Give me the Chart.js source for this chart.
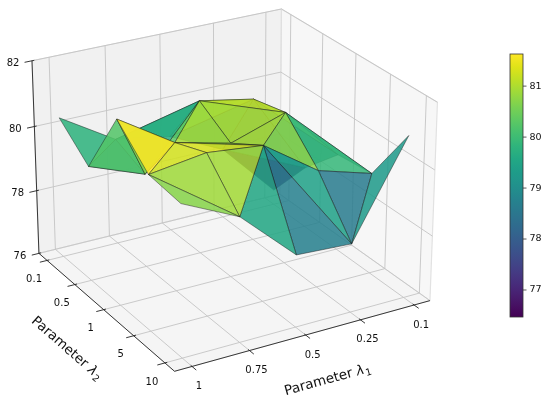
<!DOCTYPE html>
<html>
<head>
<meta charset="utf-8">
<script src="https://cdn.jsdelivr.net/npm/chart.js@4.4.1/dist/chart.umd.min.js"></script>
<style>
html,body{margin:0;padding:0;background:#ffffff;}
#wrap{width:550px;height:404px;position:relative;}
canvas{display:block;}
</style>
</head>
<body>
<div id="wrap"><canvas id="c" width="550" height="404"></canvas></div>
<script>
// ---------------- data ----------------
const lambda1Labels = ['0.1', '0.25', '0.5', '0.75', '1'];      // x index 0..4
const lambda2Labels = ['0.1', '0.5', '1', '5', '10'];           // y index 0..4
const zTicks = [76, 78, 80, 82];
const colorbarTicks = [77, 78, 79, 80, 81];
// accuracy for each λ1, listed over λ2 = 0.1, 0.5, 1, 5, 10
const accL1_010 = [76.47, 77.90, 79.00, 79.11, 80.94];
const accL1_025 = [78.20, 80.45, 80.69, 79.60, 78.10];
const accL1_050 = [79.00, 80.77, 80.14, 80.75, 78.20];
const accL1_075 = [79.30, 78.90, 80.55, 80.93, 79.76];
const accL1_100 = [80.35, 79.54, 81.63, 80.69, 80.56];
// triangulation of each grid cell [i][j]: 'A' = (i+1,j)-(i,j+1), 'B' = (i,j)-(i+1,j+1)
const cellDiagonals = [
  ['A', 'A', 'A', 'B'],
  ['A', 'A', 'B', 'A'],
  ['A', 'B', 'A', 'B'],
  ['B', 'B', 'B', 'A']
];
const accByL1 = [accL1_010, accL1_025, accL1_050, accL1_075, accL1_100];

// ---------------- view / projection (matplotlib-like 3D) ----------------
const ELEV = 25, AZIM = 60, DIST = 10;
const XLIM = [-0.3, 4.3], YLIM = [-0.3, 4.3], ZLIM = [76, 82];
const ASPECT = [4, 4, 3];
const SCREEN = {cx: 230.8, cy: 180.6, sx: 254.9, sy: 251.5, w: 550, h: 404};

const kA = 1.8294640721620434 / Math.hypot(ASPECT[0], ASPECT[1], ASPECT[2]);
const BOXD = ASPECT.map(a => a * kA);
const el = ELEV * Math.PI / 180, az = AZIM * Math.PI / 180;
const Wv = [Math.cos(el) * Math.cos(az), Math.cos(el) * Math.sin(az), Math.sin(el)];
const Uv = [-Math.sin(az), Math.cos(az), 0];
const Vv = [-Math.sin(el) * Math.cos(az), -Math.sin(el) * Math.sin(az), Math.cos(el)];
const dot = (a, b) => a[0] * b[0] + a[1] * b[1] + a[2] * b[2];
function project(xd, yd, zd) {
  const p = [
    (xd - XLIM[0]) / (XLIM[1] - XLIM[0]) * BOXD[0] - BOXD[0] / 2,
    (yd - YLIM[0]) / (YLIM[1] - YLIM[0]) * BOXD[1] - BOXD[1] / 2,
    (zd - ZLIM[0]) / (ZLIM[1] - ZLIM[0]) * BOXD[2] - BOXD[2] / 2
  ];
  const du = dot(Uv, p), dv = dot(Vv, p), dw = dot(Wv, p);
  const f = DIST / (DIST - dw);
  return {x: du * f, y: dv * f, depth: dw};
}
const P = (x, y, z) => { const q = project(x, y, z); return {x: q.x, y: q.y}; };

// ---------------- colormap ----------------
const VIRIDIS = ['#440154','#471365','#482475','#463480','#414487','#3b528b','#355f8d','#2f6c8e',
  '#2a788e','#25848e','#21918c','#1e9c89','#22a884','#2fb47c','#44bf70','#5ec962','#7ad151',
  '#9bd93c','#bddf26','#dfe318','#fde725'];
function hex2rgb(h) { return [parseInt(h.slice(1,3),16), parseInt(h.slice(3,5),16), parseInt(h.slice(5,7),16)]; }
function viridis(t) {
  t = Math.max(0, Math.min(1, t));
  const p = t * (VIRIDIS.length - 1);
  const i = Math.min(VIRIDIS.length - 2, Math.floor(p));
  const f = p - i;
  const a = hex2rgb(VIRIDIS[i]), b = hex2rgb(VIRIDIS[i + 1]);
  return [0, 1, 2].map(k => Math.round(a[k] + (b[k] - a[k]) * f));
}

// ---------------- build datasets ----------------
const datasets = [];
function lineDS(pts, color, width, order) {
  return {data: pts, borderColor: color, borderWidth: width, fill: false, pointRadius: 0,
          pointHoverRadius: 0, order: order, clip: false, tension: 0};
}
function polyDS(pts, fillColor, edgeColor, edgeWidth, order) {
  return {data: pts.concat([pts[0]]), backgroundColor: fillColor, borderColor: edgeColor,
          borderWidth: edgeWidth, fill: 'shape', pointRadius: 0, pointHoverRadius: 0,
          order: order, clip: false, tension: 0, borderJoinStyle: 'round'};
}
const [x0, x1] = XLIM, [y0, y1] = YLIM, [z0, z1] = ZLIM;

// panes
datasets.push(polyDS([P(x0,y0,z0), P(x1,y0,z0), P(x1,y1,z0), P(x0,y1,z0)], 'rgba(236,236,236,0.55)', 'rgba(228,228,228,1)', 1, 9900));
datasets.push(polyDS([P(x0,y0,z0), P(x1,y0,z0), P(x1,y0,z1), P(x0,y0,z1)], 'rgba(230,230,230,0.55)', 'rgba(224,224,224,1)', 1.2, 9901));
datasets.push(polyDS([P(x0,y0,z0), P(x0,y1,z0), P(x0,y1,z1), P(x0,y0,z1)], 'rgba(240,240,240,0.55)', 'rgba(226,226,226,1)', 1.2, 9902));

// gridlines
const GRID = 'rgba(196,196,196,1)';
for (let i = 0; i < lambda1Labels.length; i++) {
  datasets.push(lineDS([P(i,y0,z0), P(i,y1,z0)], GRID, 0.9, 9500));
  datasets.push(lineDS([P(i,y0,z0), P(i,y0,z1)], GRID, 0.9, 9500));
}
for (let j = 0; j < lambda2Labels.length; j++) {
  datasets.push(lineDS([P(x0,j,z0), P(x1,j,z0)], GRID, 0.9, 9500));
  datasets.push(lineDS([P(x0,j,z0), P(x0,j,z1)], GRID, 0.9, 9500));
}
zTicks.forEach(z => {
  datasets.push(lineDS([P(x0,y0,z), P(x1,y0,z)], GRID, 0.9, 9500));
  datasets.push(lineDS([P(x0,y0,z), P(x0,y1,z)], GRID, 0.9, 9500));
});

// axis lines & ticks
const AX = '#222222';
datasets.push(lineDS([P(x1,y0,z0), P(x1,y0,z1)], AX, 0.9, 9000));
datasets.push(lineDS([P(x1,y0,z0), P(x1,y1,z0)], AX, 0.9, 9000));
datasets.push(lineDS([P(x0,y1,z0), P(x1,y1,z0)], AX, 0.9, 9000));
const TK = 0.13;
for (let i = 0; i < lambda1Labels.length; i++) datasets.push(lineDS([P(i,y1-0.04,z0), P(i,y1+TK,z0)], AX, 0.9, 9000));
for (let j = 0; j < lambda2Labels.length; j++) datasets.push(lineDS([P(x1-0.04,j,z0), P(x1+TK,j,z0)], AX, 0.9, 9000));
zTicks.forEach(z => datasets.push(lineDS([P(x1-0.04,y0,z), P(x1+TK,y0,z)], AX, 0.9, 9000)));

// surface triangles
const tris = [];
for (let i = 0; i < 4; i++) {
  for (let j = 0; j < 4; j++) {
    if (cellDiagonals[i][j] === 'A') {
      tris.push([[i,j],[i+1,j],[i,j+1]]);
      tris.push([[i+1,j],[i+1,j+1],[i,j+1]]);
    } else {
      tris.push([[i,j],[i+1,j],[i+1,j+1]]);
      tris.push([[i,j],[i+1,j+1],[i,j+1]]);
    }
  }
}
const triInfo = tris.map(t => {
  const zs = t.map(([i,j]) => accByL1[i][j]);
  const pr = t.map(([i,j]) => project(i, j, accByL1[i][j]));
  return {avg: (zs[0]+zs[1]+zs[2])/3, pts: pr.map(q => ({x: q.x, y: q.y})), depth: (pr[0].depth+pr[1].depth+pr[2].depth)/3};
});
const avgMin = Math.min(...triInfo.map(t => t.avg));
const avgMax = Math.max(...triInfo.map(t => t.avg));
triInfo.sort((a, b) => a.depth - b.depth);
triInfo.forEach((t, k) => {
  const c = viridis((t.avg - avgMin) / (avgMax - avgMin));
  datasets.push(polyDS(t.pts, `rgba(${c[0]},${c[1]},${c[2]},0.86)`, 'rgba(25,25,25,0.75)', 0.6, 5000 - k));
});

// colorbar range from the data
const allVals = accByL1.flat();
const cbMin = Math.min(...allVals), cbMax = Math.max(...allVals);
const CB = {x: 510, y: 54, w: 13, h: 263};

// ---------------- text / colorbar plugin ----------------
const FONT = '"DejaVu Sans", "Liberation Sans", sans-serif';
function drawTitle(ctx, x, y, angle, sub) {
  ctx.save();
  ctx.translate(x, y);
  ctx.rotate(angle);
  ctx.textBaseline = 'middle';
  ctx.textAlign = 'left';
  const fMain = '13.5px ' + FONT, fLam = 'italic 13.5px ' + FONT, fSub = '9.5px ' + FONT;
  ctx.font = fMain; const w1 = ctx.measureText('Parameter ').width;
  ctx.font = fLam; const w2 = ctx.measureText('λ').width;
  ctx.font = fSub; const w3 = ctx.measureText(sub).width;
  const W = w1 + w2 + 0.5 + w3;
  let cx = -W / 2;
  ctx.font = fMain; ctx.fillText('Parameter ', cx, 0); cx += w1;
  ctx.font = fLam; ctx.fillText('λ', cx, 0); cx += w2 + 0.5;
  ctx.font = fSub; ctx.fillText(sub, cx, 4);
  ctx.restore();
}
const textPlugin = {
  id: 'axes3dText',
  afterDatasetsDraw(chart) {
    const ctx = chart.ctx, sx = chart.scales.x, sy = chart.scales.y;
    const px = p => [sx.getPixelForValue(p.x), sy.getPixelForValue(p.y)];
    ctx.save();
    ctx.fillStyle = '#111111';
    ctx.textAlign = 'center';
    ctx.textBaseline = 'middle';
    ctx.font = '10px ' + FONT;
    lambda1Labels.forEach((t, i) => { const [x, y] = px(P(i, y1, z0)); ctx.fillText(t, x + 7, y + 20); });
    lambda2Labels.forEach((t, j) => { const [x, y] = px(P(x1, j, z0)); ctx.fillText(t, x - 13, y + 19); });
    ctx.font = '10px ' + FONT;
    zTicks.forEach(z => { const [x, y] = px(P(x1, y0, z)); ctx.fillText(String(z), x - 19, y + 3); });
    // axis titles
    const a1s = px(P(4, y1, z0)), a1e = px(P(0, y1, z0)), a1m = px(P(2, y1, z0));
    drawTitle(ctx, a1m[0] + 22, a1m[1] + 45, Math.atan2(a1e[1] - a1s[1], a1e[0] - a1s[0]), '1');
    const a2s = px(P(x1, 0, z0)), a2e = px(P(x1, 4, z0)), a2m = px(P(x1, 2, z0));
    drawTitle(ctx, a2m[0] - 37, a2m[1] + 39, Math.atan2(a2e[1] - a2s[1], a2e[0] - a2s[0]), '2');
    // colorbar
    const g = ctx.createLinearGradient(0, CB.y + CB.h, 0, CB.y);
    for (let k = 0; k <= 40; k++) { const c = viridis(k / 40); g.addColorStop(k / 40, `rgb(${c[0]},${c[1]},${c[2]})`); }
    ctx.fillStyle = g;
    ctx.fillRect(CB.x, CB.y, CB.w, CB.h);
    ctx.strokeStyle = '#333333'; ctx.lineWidth = 0.8;
    ctx.strokeRect(CB.x, CB.y, CB.w, CB.h);
    ctx.fillStyle = '#111111';
    ctx.textAlign = 'left';
    ctx.font = '9.5px ' + FONT;
    colorbarTicks.forEach(v => {
      const y = CB.y + CB.h - (v - cbMin) / (cbMax - cbMin) * CB.h;
      ctx.beginPath(); ctx.moveTo(CB.x + CB.w, y); ctx.lineTo(CB.x + CB.w + 3.5, y); ctx.stroke();
      ctx.fillText(String(v), CB.x + CB.w + 6.5, y);
    });
    ctx.restore();
  }
};

new Chart(document.getElementById('c'), {
  type: 'line',
  data: {datasets: datasets},
  options: {
    responsive: false,
    animation: false,
    events: [],
    layout: {padding: 0},
    plugins: {legend: {display: false}, tooltip: {enabled: false}, title: {display: false}},
    elements: {point: {radius: 0}, line: {tension: 0}},
    scales: {
      x: {type: 'linear', display: false, min: (0 - SCREEN.cx) / SCREEN.sx, max: (SCREEN.w - SCREEN.cx) / SCREEN.sx},
      y: {type: 'linear', display: false, min: (SCREEN.cy - SCREEN.h) / SCREEN.sy, max: SCREEN.cy / SCREEN.sy}
    }
  },
  plugins: [textPlugin]
});
</script>
</body>
</html>
